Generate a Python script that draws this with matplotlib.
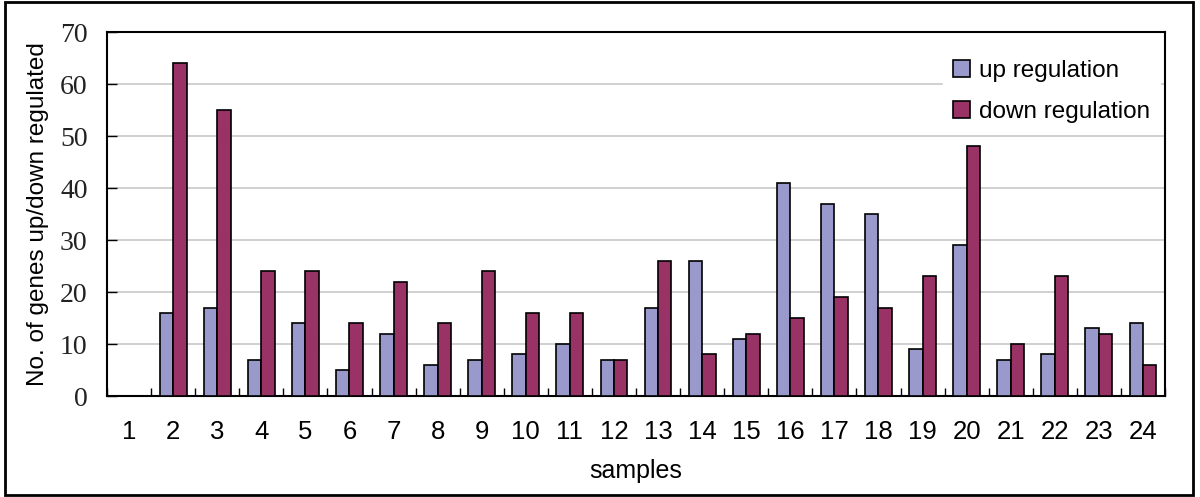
import matplotlib
matplotlib.use("Agg")
import matplotlib.pyplot as plt
import numpy as np

samples = [str(i) for i in range(1, 25)]
up_regulation = [0, 16, 17, 7, 14, 5, 12, 6, 7, 8, 10, 7, 17, 26, 11, 41, 37, 35, 9, 29, 7, 8, 13, 14]
down_regulation = [0, 64, 55, 24, 24, 14, 22, 14, 24, 16, 16, 7, 26, 8, 12, 15, 19, 17, 23, 48, 10, 23, 12, 6]
y_ticks = [0, 10, 20, 30, 40, 50, 60, 70]

up_color = "#9999CC"
down_color = "#993366"

W, H = 1200, 497
fig = plt.figure(figsize=(W / 100, H / 100), dpi=100)
ax = fig.add_axes([107 / W, 1 - 396 / H, (1165 - 107) / W, (396 - 32) / H])

x = np.arange(len(samples))
bw = 0.305
ax.bar(x, up_regulation, width=bw, align="edge", color=up_color,
       edgecolor="black", linewidth=1.2, label="up regulation", zorder=3)
ax.bar(x + bw, down_regulation, width=bw, align="edge", color=down_color,
       edgecolor="black", linewidth=1.2, label="down regulation", zorder=3)

ax.set_xlim(-0.5 + bw, len(samples) - 0.5 + bw)
ax.set_ylim(0, 70)
ax.set_yticks(y_ticks)
ax.set_yticklabels([str(v) for v in y_ticks], family="Liberation Serif", fontsize=20, color="#222222")
ax.yaxis.grid(True, color="#C8C8C8", linewidth=1.2, zorder=0)
ax.set_axisbelow(True)
ax.tick_params(axis="y", direction="in", length=7, width=1, pad=14)

ax.set_xticks(x + bw)
ax.set_xticklabels(samples, family="Liberation Sans", fontsize=18.5)
ax.tick_params(axis="x", which="major", length=0, pad=17)
ax.set_xticks(np.arange(len(samples) + 1) - 0.5 + bw, minor=True)
ax.tick_params(axis="x", which="minor", direction="in", length=6, width=1)

for s in ax.spines.values():
    s.set_linewidth(1.5)
    s.set_color("black")

ax.set_xlabel("samples", family="Liberation Sans", fontsize=18, labelpad=11)
ax.set_ylabel("No. of genes up/down regulated", family="Liberation Sans", fontsize=17.5, labelpad=8)

leg = ax.legend(loc="upper right", bbox_to_anchor=(1.0, 0.962), frameon=True,
                prop={"family": "Liberation Sans", "size": 17.5},
                handlelength=0.7, handleheight=0.7, handletextpad=0.4,
                labelspacing=0.75, borderaxespad=0.2, fancybox=False)
leg.get_frame().set_edgecolor("white")
leg.get_frame().set_facecolor("white")
leg.get_frame().set_alpha(1)

# outer figure frame
fig.patches.append(plt.Rectangle((5 / W, 2 / H), (1193 - 5) / W, (495 - 2) / H,
                                 transform=fig.transFigure, fill=False,
                                 edgecolor="black", linewidth=2))

fig.savefig("out.png", dpi=100, facecolor="white")
